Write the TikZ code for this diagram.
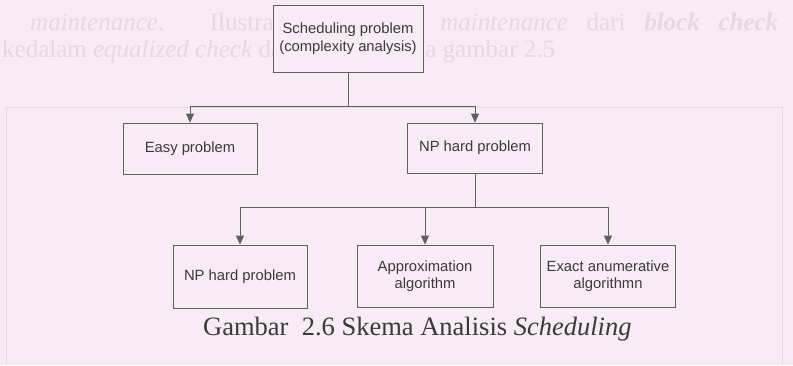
\documentclass[tikz,border=0pt]{standalone}
\usepackage{fontspec}
\setmainfont{Liberation Serif}
\newfontfamily\boxfont{Liberation Sans}
\usetikzlibrary{arrows.meta}

\definecolor{paper}{RGB}{247,235,246}
\definecolor{ink}{RGB}{58,58,58}
\definecolor{wire}{RGB}{95,95,95}
\definecolor{ghost}{RGB}{229,216,229}

\tikzset{
  chart/.style={draw=wire, line width=0.9pt, rectangle, inner sep=0pt,
    font=\boxfont\fontsize{14.8}{17.5}\selectfont, text=ink, align=center},
  link/.style={draw=wire, line width=0.9pt},
  arr/.style={link, -{Triangle[width=8pt,length=9pt]}},
  faint/.style={text=ghost, font=\fontsize{25}{25}\selectfont, inner sep=0pt, anchor=base west},
}

\begin{document}
\begin{tikzpicture}[x=1pt,y=-1pt]
  % page and its boundaries
  \fill[paper] (0,0) rectangle (793,365);
  \useasboundingbox (0,0) rectangle (793,365);

  % text showing through from the other side of the sheet
  \node[faint] (g1) at (30,30) {\makebox[748pt][s]{\textit{maintenance}. Ilustrasi pemecahan \textit{maintenance} dari \textbf{\textit{block check}}}};
  \node[faint] (g2) at (2,57) {kedalam \textit{equalized check} dapat dilihat pada gambar 2.5};
  \draw[ghost, line width=0.8pt] (6,365) -- (6,107) -- (782,107) -- (782,365);

  % boxes
  \node[chart, fill=paper, minimum width=150pt, minimum height=67pt] (top) at (348,38.5)
    {Scheduling problem\\(complexity analysis)};
  \node[chart, minimum width=134pt, minimum height=51pt] (easy) at (190,148.5) {Easy problem};
  \node[chart, minimum width=135pt, minimum height=50pt] (nph) at (475,148) {NP hard problem};
  \node[chart, minimum width=134pt, minimum height=63pt] (b1) at (240,276.5) {NP hard problem};
  \node[chart, minimum width=136pt, minimum height=62pt] (b2) at (425,276) {Approximation\\algorithm};
  \node[chart, minimum width=135pt, minimum height=62pt] (b3) at (608,276) {Exact anumerative\\algorithmn};

  % connectors
  \coordinate (j1) at (348,106);
  \coordinate (j2) at (475,207);
  \draw[link] (top) -- (j1);
  \draw[arr] (j1) -| (easy);
  \draw[arr] (j1) -| (nph);
  \draw[link] (nph) -- (j2);
  \draw[arr] (j2) -| (b1);
  \draw[arr] (j2) -| (b2);
  \draw[arr] (j2) -| (b3);

  % caption
  \node[anchor=base west, inner sep=0pt, text=ink, font=\fontsize{26.5}{30}\selectfont] (cap) at (203,335)
    {Gambar\ \ 2.6 Skema Analisis \textit{Scheduling}};
\end{tikzpicture}
\end{document}
